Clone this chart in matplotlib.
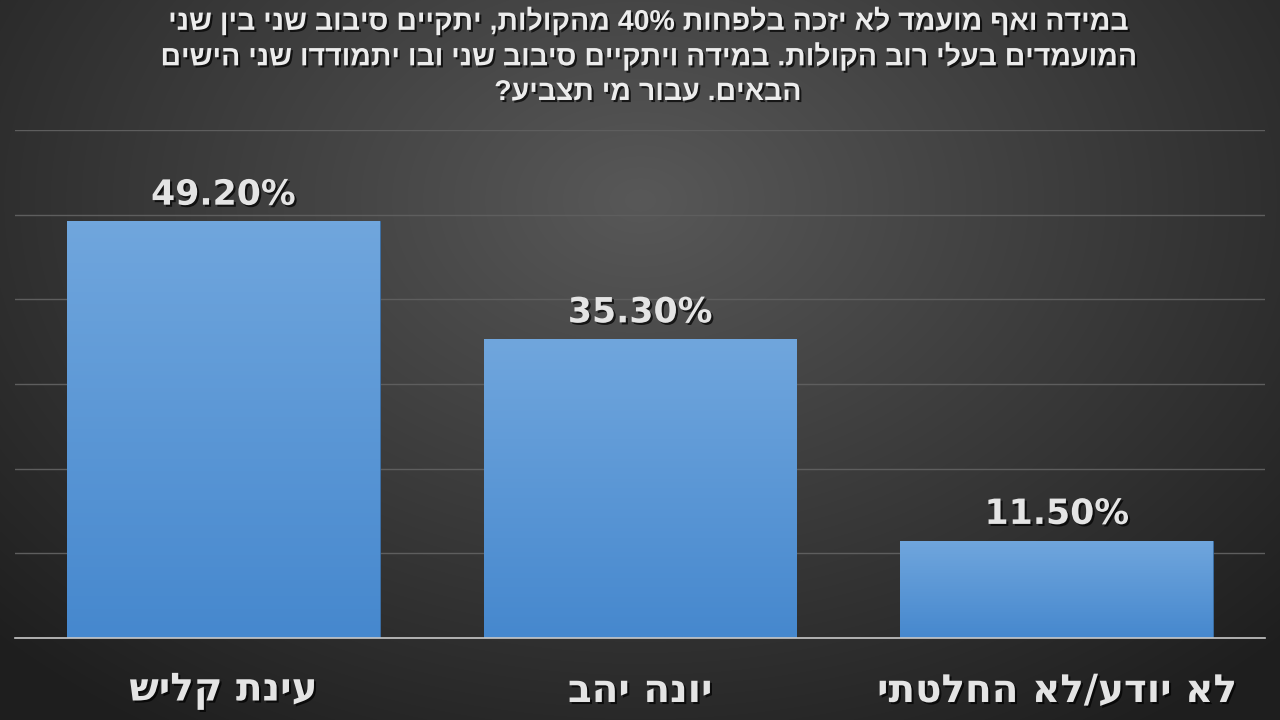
import re
import numpy as np
import matplotlib
matplotlib.use("Agg")
import matplotlib.pyplot as plt
import matplotlib.patheffects as pe

# data
categories = ["עינת קליש", "יונה יהב", "לא יודע/לא החלטתי"]
values = [49.2, 35.3, 11.5]
value_labels = ["49.20%", "35.30%", "11.50%"]
title_lines = [
    "במידה ואף מועמד לא יזכה בלפחות 40% מהקולות, יתקיים סיבוב שני בין שני",
    "המועמדים בעלי רוב הקולות. במידה ויתקיים סיבוב שני ובו יתמודדו שני הישים",
    "הבאים. עבור מי תצביע?",
]

def rtl(s):
    # crude visual ordering for hebrew: reverse, then put number runs back
    r = s[::-1]
    return re.sub(r"[0-9.%]+", lambda m: m.group(0)[::-1], r)

plt.rcParams['font.family'] = ['DejaVu Sans']
fig = plt.figure(figsize=(12.8, 7.2), dpi=100)

# radial background
bg = fig.add_axes([0, 0, 1, 1])
yy, xx = np.mgrid[0:720, 0:1280]
d = np.sqrt(((xx - 640) / 900.0) ** 2 + ((yy - 200) / 640.0) ** 2)
d = np.clip(d, 0, 1)
c_in = np.array([0x58, 0x58, 0x58]) / 255.0
c_out = np.array([0x1e, 0x1e, 0x1e]) / 255.0
img = c_in[None, None, :] * (1 - d[..., None]) + c_out[None, None, :] * d[..., None]
bg.imshow(img, extent=[0, 1, 0, 1], aspect='auto', origin='upper')
bg.axis('off')

ax = fig.add_axes([0.0117, 0.1139, 0.9766, 0.7056])
ax.patch.set_alpha(0)
x = np.arange(len(categories))
bars = ax.bar(x, values, width=0.75, color='#5b98d6', zorder=2)
ax.set_xlim(-0.5, 2.5)
ax.set_ylim(0, 60)

grad = np.linspace(0, 1, 100)[:, None]
top = np.array([0x70, 0xa6, 0xdd]) / 255.0
bot = np.array([0x46, 0x88, 0xce]) / 255.0
gimg = top[None, None, :] * (1 - grad[..., None]) + bot[None, None, :] * grad[..., None]
for b in bars:
    bx, by = b.get_x(), b.get_y()
    im = ax.imshow(gimg, extent=[bx, bx + b.get_width(), by, by + b.get_height()],
                   aspect='auto', origin='upper', zorder=3)
    im.set_clip_path(b)
    b.set_edgecolor('#3a6fa8')
    b.set_linewidth(0.6)

ax.set_yticks(np.arange(0, 61, 10))
ax.yaxis.grid(True, color='#5e5e5e', linewidth=1)
ax.set_axisbelow(True)
ax.tick_params(left=False, labelleft=False, bottom=False)
for s in ['top', 'right', 'left']:
    ax.spines[s].set_visible(False)
ax.spines['bottom'].set_color('#c8c8c8')
ax.spines['bottom'].set_linewidth(1.2)
ax.spines['bottom'].set_zorder(5)

shadow = [pe.withSimplePatchShadow(offset=(1.5, -1.5), shadow_rgbFace='black', alpha=0.7)]

ax.set_xticks(x)
ax.set_xticklabels([rtl(c) for c in categories], fontsize=28, fontweight='bold',
                   color='#e4e4e4', path_effects=shadow)
ax.tick_params(axis='x', pad=21)

for i, v in enumerate(values):
    ax.annotate(value_labels[i], (x[i], v), xytext=(0, 7), textcoords='offset points',
                ha='center', va='bottom', fontsize=25, fontweight='bold',
                color='#e4e4e4', path_effects=shadow, zorder=6)

for i, line in enumerate(title_lines):
    fig.text(0.506, 1 - (22 + 35.5 * i) / 720, rtl(line), ha='center', va='center',
             fontsize=20.5, fontweight='bold', color='#ececec', path_effects=shadow,
             family=['Liberation Sans', 'DejaVu Sans'])

fig.savefig("out.png", dpi=100)
